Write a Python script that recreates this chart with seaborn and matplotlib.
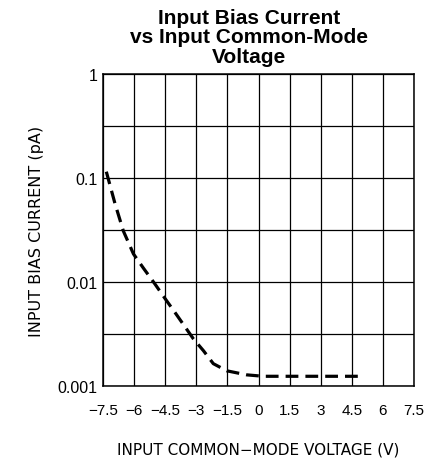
import numpy as np
import pandas as pd
import matplotlib
matplotlib.use("Agg")
import matplotlib.pyplot as plt
import matplotlib.ticker as mticker
import seaborn as sns

# curve (V, pA)
voltage = [-7.34, -6.92, -6.52, -6.03, -5.54, -5.0, -4.5, -4.0, -3.5, -3.14,
           -2.66, -2.18, -1.53, -0.57, 0.23, 2.0, 3.5, 4.98]
bias_current = [0.115, 0.0566, 0.031, 0.0186, 0.0135, 0.0096, 0.0069, 0.005,
                0.0036, 0.00284, 0.00219, 0.00164, 0.0014, 0.00128, 0.00124,
                0.00124, 0.00124, 0.00124]

x_ticks = [-7.5, -6, -4.5, -3, -1.5, 0, 1.5, 3, 4.5, 6, 7.5]
x_tick_labels = ["\u22127.5", "\u22126", "\u22124.5", "\u22123", "\u22121.5", "0",
                 "1.5", "3", "4.5", "6", "7.5"]
y_ticks = [0.001, 0.01, 0.1, 1]
y_tick_labels = ["0.001", "0.01", "0.1", "1"]
y_half_decades = [10 ** -2.5, 10 ** -1.5, 10 ** -0.5]

df = pd.DataFrame({"v": voltage, "i": bias_current})

sns.set_style("white")
plt.rcParams["font.family"] = ["Liberation Sans", "DejaVu Sans"]
plt.rcParams["text.color"] = "black"
plt.rcParams["axes.labelcolor"] = "black"

fig = plt.figure(figsize=(4.32, 4.6), dpi=100)
ax = fig.add_axes([103 / 432, 1 - 387 / 460, 311 / 432, 312 / 460])

sns.lineplot(data=df, x="v", y="i", ax=ax, color="black", linewidth=2.3,
             dashes=False)
ax.lines[0].set_dashes((4, 2.2))

ax.set_yscale("log")
ax.set_xlim(-7.5, 7.5)
ax.set_ylim(0.001, 1)

ax.set_xticks(x_ticks)
ax.set_xticklabels(x_tick_labels, fontsize=11)
ax.set_yticks(y_ticks)
ax.set_yticklabels(y_tick_labels, fontsize=11.5)
ax.yaxis.set_minor_locator(mticker.FixedLocator(y_half_decades))
ax.yaxis.set_minor_formatter(mticker.NullFormatter())
ax.tick_params(which="both", length=0, colors="black")
ax.tick_params(axis="x", pad=12)
ax.tick_params(axis="y", pad=4)

ax.grid(True, which="both", color="black", linewidth=0.9)
for s in ax.spines.values():
    s.set_color("black")
    s.set_linewidth(1.1)

ax.set_xlabel("INPUT COMMON\u2212MODE VOLTAGE (V)", fontsize=11,
              family="DejaVu Sans", labelpad=18)
ax.set_ylabel("INPUT BIAS CURRENT (pA)", fontsize=11.5, family="DejaVu Sans",
              labelpad=10)

fig.text(249 / 432, 1 - 9 / 460, "Input Bias Current\nvs Input Common-Mode\nVoltage",
         ha="center", va="top", fontsize=15, fontweight="bold",
         linespacing=1.02)

fig.savefig("out.png", dpi=100)
